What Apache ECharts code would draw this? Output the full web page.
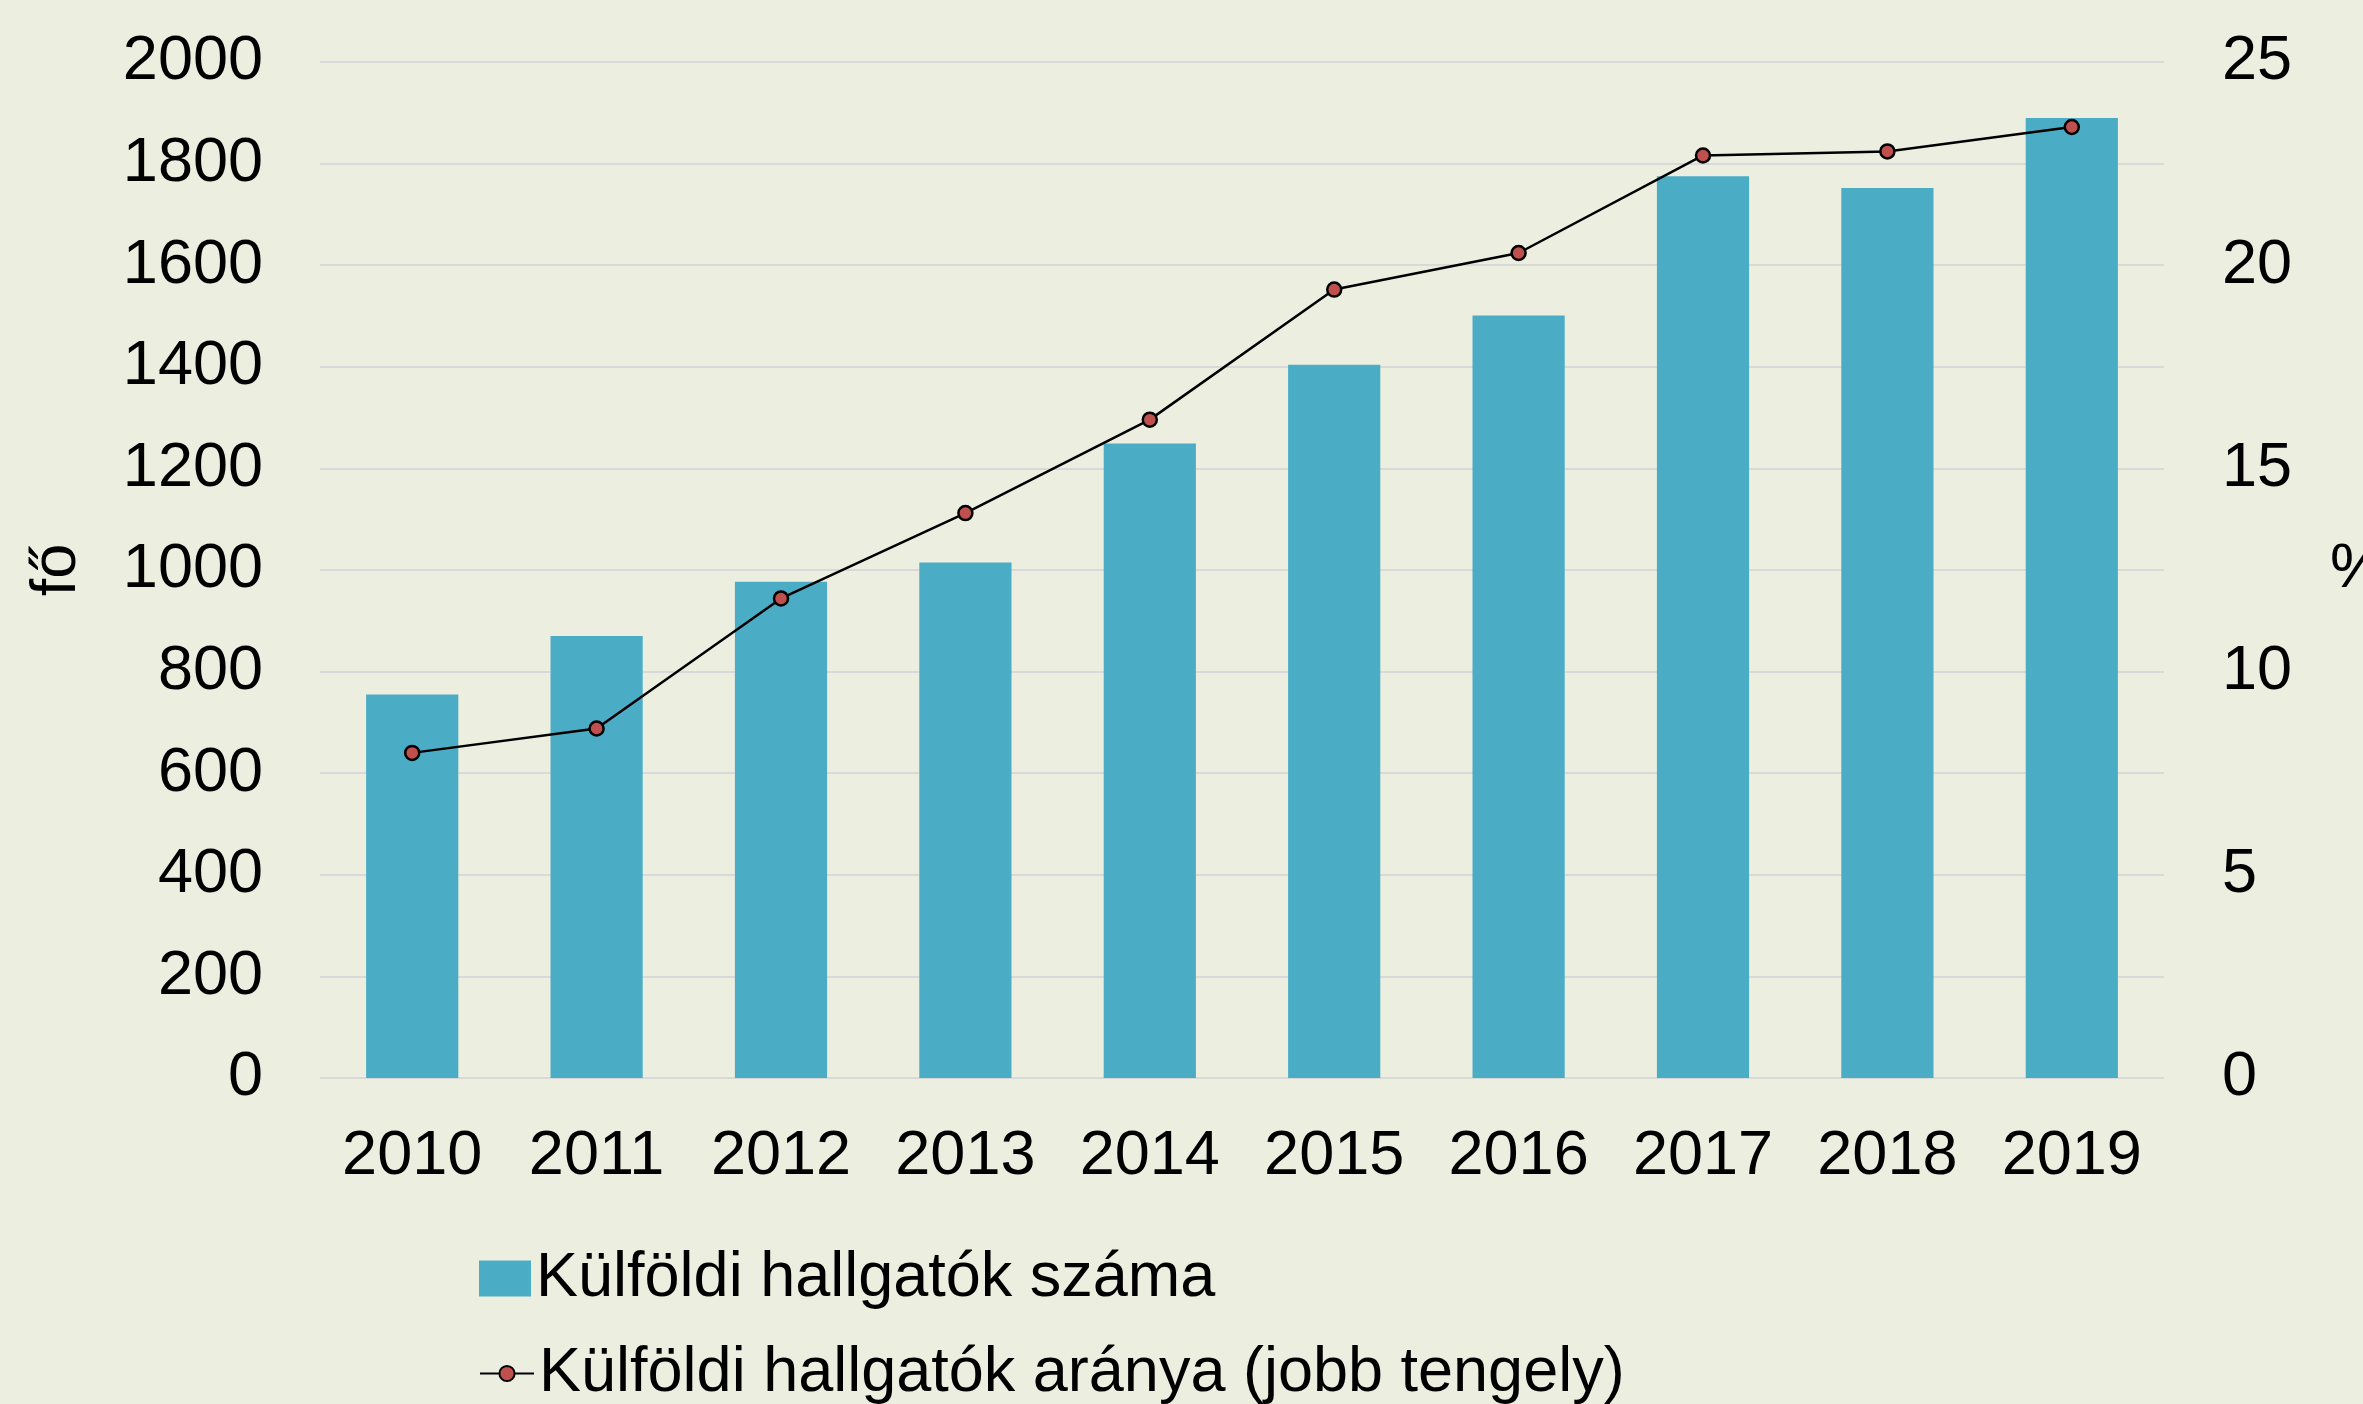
<!DOCTYPE html>
<html>
<head>
<meta charset="utf-8">
<script src="https://cdn.jsdelivr.net/npm/echarts@6/dist/echarts.min.js"></script>
<style>
  html, body { margin: 0; padding: 0; background: #ECEFE0; }
  #chart { width: 2363px; height: 1404px; }
</style>
</head>
<body>
<div id="chart"></div>
<script>
var years = ["2010", "2011", "2012", "2013", "2014", "2015", "2016", "2017", "2018", "2019"];
var hallgatokSzama = [755, 870, 977, 1015, 1249, 1404, 1501, 1775, 1752, 1890];
var hallgatokAranya = [8.0, 8.6, 11.8, 13.9, 16.2, 19.4, 20.3, 22.7, 22.8, 23.4];
var leftTicks = { min: 0, max: 2000, interval: 200 };
var rightTicks = { min: 0, max: 25, interval: 5 };

var font = "'Liberation Sans', Arial, sans-serif";
var textBase = { color: "#000", fontSize: 63, fontFamily: font };

var mychart = echarts.init(document.getElementById("chart"));

mychart.setOption({
  backgroundColor: "#ECEFE0",
  animation: false,
  grid: { left: 320, right: 199, top: 62, bottom: 326, outerBoundsMode: "none", containLabel: false },
  legend: [
    {
      data: [{ name: "Külföldi hallgatók száma", icon: "rect" }],
      left: 479,
      top: 1247,
      padding: 0,
      itemWidth: 52,
      itemHeight: 36,
      itemGap: 6,
      textStyle: textBase
    },
    {
      data: ["Külföldi hallgatók aránya (jobb tengely)"],
      left: 479,
      top: 1342,
      padding: 0,
      itemWidth: 54,
      itemHeight: 19,
      textStyle: textBase
    }
  ],
  xAxis: {
    type: "category",
    data: years,
    axisLine: { show: false },
    axisTick: { show: false },
    axisLabel: Object.assign({ margin: 47, interval: 0 }, textBase)
  },
  yAxis: [
    {
      type: "value",
      min: leftTicks.min,
      max: leftTicks.max,
      interval: leftTicks.interval,
      name: "fő",
      nameLocation: "middle",
      nameGap: 231,
      nameTextStyle: textBase,
      axisLine: { show: false },
      axisTick: { show: false },
      axisLabel: Object.assign({ margin: 57, formatter: function (v) { return String(v); } }, textBase),
      splitLine: { lineStyle: { color: "#D9D9D9", width: 2 } }
    },
    {
      type: "value",
      min: rightTicks.min,
      max: rightTicks.max,
      interval: rightTicks.interval,
      name: "%",
      nameLocation: "middle",
      nameRotate: 0,
      nameGap: 166,
      nameTextStyle: Object.assign({ align: "left" }, textBase),
      axisLine: { show: false },
      axisTick: { show: false },
      axisLabel: Object.assign({ margin: 58, formatter: function (v) { return String(v); } }, textBase),
      splitLine: { show: false }
    }
  ],
  series: [
    {
      name: "Külföldi hallgatók száma",
      type: "bar",
      data: hallgatokSzama,
      barWidth: "50%",
      itemStyle: { color: "#4BACC6" }
    },
    {
      name: "Külföldi hallgatók aránya (jobb tengely)",
      type: "line",
      yAxisIndex: 1,
      data: hallgatokAranya,
      symbol: "circle",
      symbolSize: 14,
      lineStyle: { color: "#000", width: 2.5 },
      itemStyle: { color: "#C0504D", borderColor: "#000", borderWidth: 2.5 }
    }
  ]
});
</script>
</body>
</html>
